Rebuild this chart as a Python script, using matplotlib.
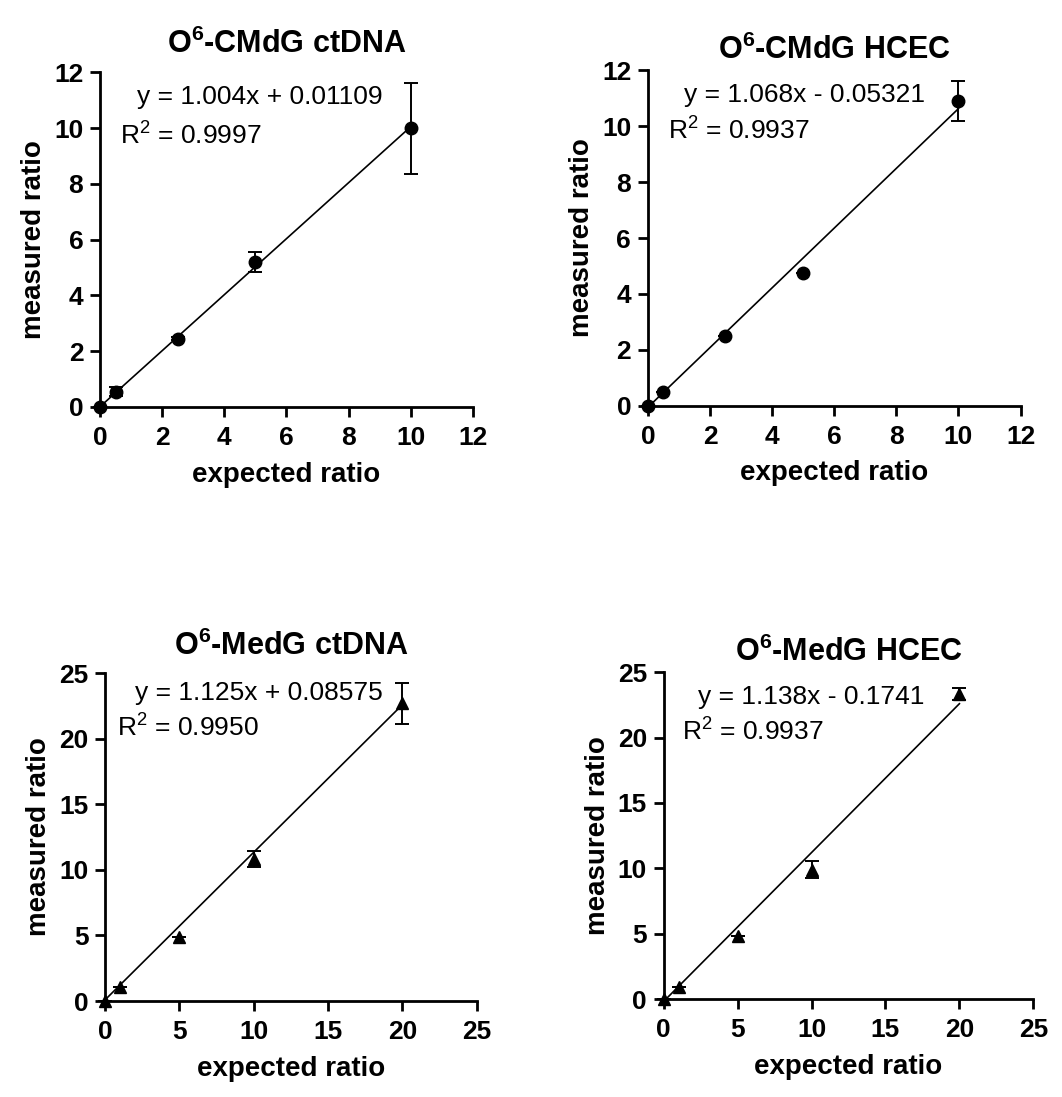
import matplotlib
matplotlib.use("Agg")
import matplotlib.pyplot as plt
import numpy as np

plt.rcParams["font.family"] = ["Liberation Sans", "DejaVu Sans"]
plt.rcParams["mathtext.fontset"] = "custom"
plt.rcParams["mathtext.rm"] = "Liberation Sans"
plt.rcParams["mathtext.bf"] = "Liberation Sans:bold"
plt.rcParams["mathtext.default"] = "regular"

# Данные панелей
cmdg_x = [0, 0.5, 2.5, 5, 10]
cmdg_ct_y = [0, 0.55, 2.45, 5.2, 10.0]
cmdg_ct_err = [0, 0.15, 0.05, 0.35, 1.63]
cmdg_hc_y = [0, 0.5, 2.5, 4.75, 10.9]
cmdg_hc_err = [0, 0, 0, 0, 0.7]

medg_x = [0, 1, 5, 10, 20]
medg_ct_y = [0, 1.1, 4.9, 10.8, 22.7]
medg_ct_err = [0, 0, 0, 0.6, 1.55]
medg_hc_y = [0, 0.9, 4.85, 9.9, 23.3]
medg_hc_err = [0, 0, 0, 0.65, 0.45]

# наклон, сдвиг, R^2
fits = [(1.004, 0.01109, "0.9997"), (1.068, -0.05321, "0.9937"),
        (1.125, 0.08575, "0.9950"), (1.138, -0.1741, "0.9937")]
titles = [r"O$^{\mathbf{6}}$-CMdG ctDNA", r"O$^{\mathbf{6}}$-CMdG HCEC",
          r"O$^{\mathbf{6}}$-MedG ctDNA", r"O$^{\mathbf{6}}$-MedG HCEC"]

panels = [
    (cmdg_x, cmdg_ct_y, cmdg_ct_err, "o", 12, 2),
    (cmdg_x, cmdg_hc_y, cmdg_hc_err, "o", 12, 2),
    (medg_x, medg_ct_y, medg_ct_err, "^", 25, 5),
    (medg_x, medg_hc_y, medg_hc_err, "^", 25, 5),
]

# положение осей на рисунке и подписей уравнения
rects = [(0.0942, 0.629, 0.351, 0.305), (0.610, 0.630, 0.351, 0.306),
         (0.0989, 0.0875, 0.350, 0.299), (0.625, 0.0893, 0.348, 0.298)]
eq_pos = [((0.099, 0.925), (0.054, 0.81)), ((0.097, 0.926), (0.054, 0.82)),
          ((0.081, 0.939), (0.032, 0.832)), ((0.092, 0.924), (0.049, 0.817))]
title_pads = [14, 8, 13, 8]

fig = plt.figure(figsize=(10.62, 10.97), dpi=100)

for i in range(4):
    x, y, err, marker, lim, step = panels[i]
    slope, icpt, r2 = fits[i]
    ax = fig.add_axes(rects[i])

    xs = np.array([0, max(x)])
    ax.plot(xs, slope * xs + icpt, color="black", linewidth=1.2)
    ax.errorbar(x, y, yerr=err, fmt=marker, color="black", markersize=9,
                ecolor="black", elinewidth=1.4, capsize=5, capthick=1.4,
                clip_on=False, zorder=3)

    ax.set_xlim(0, lim)
    ax.set_ylim(0, lim)
    ax.set_xticks(np.arange(0, lim + 1, step))
    ax.set_yticks(np.arange(0, lim + 1, step))
    for s in ["top", "right"]:
        ax.spines[s].set_visible(False)
    for s in ["left", "bottom"]:
        ax.spines[s].set_linewidth(2.0)
    ax.tick_params(direction="out", length=7, width=2.0, labelsize=19, pad=5)
    ax.tick_params(axis="x", pad=7)
    for lab in ax.get_xticklabels() + ax.get_yticklabels():
        lab.set_fontweight("bold")

    ax.set_xlabel("expected ratio", fontsize=20, fontweight="bold", labelpad=8)
    ax.set_ylabel("measured ratio", fontsize=20, fontweight="bold", labelpad=5)
    ax.set_title(titles[i], fontsize=22, fontweight="bold", pad=title_pads[i])

    sign = "+" if icpt >= 0 else "-"
    (ex, ey), (rx, ry) = eq_pos[i]
    ax.text(ex, ey, f"y = {slope:.3f}x {sign} {abs(icpt):g}", transform=ax.transAxes,
            fontsize=19, va="center", ha="left")
    ax.text(rx, ry, "R$^{2}$ = " + r2, transform=ax.transAxes,
            fontsize=19, va="center", ha="left")

fig.savefig("out.png", dpi=100)
